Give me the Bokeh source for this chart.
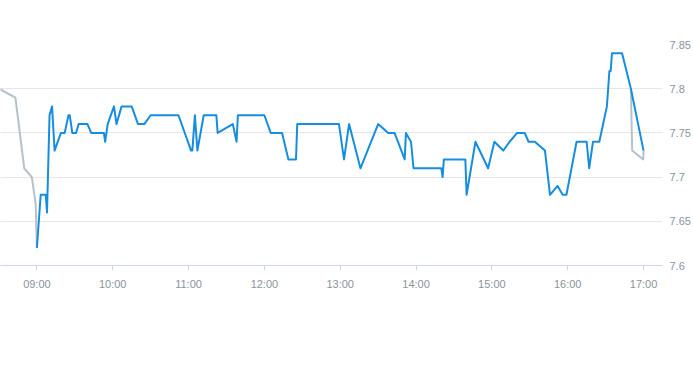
import pandas as pd
from bokeh.plotting import figure
from bokeh.models import Range1d, FixedTicker, DatetimeTickFormatter, ColumnDataSource
from bokeh.embed import file_html
from bokeh.resources import INLINE

DAY = "2024-01-02 "

# pre/post-session series (grey)
grey_times = ["08:30", "08:43", "08:50", "08:56", "08:59", "09:00",
              "16:50", "16:51", "16:59:45", "17:00"]
grey_values = [7.80, 7.79, 7.71, 7.70, 7.67, 7.62,
               7.80, 7.73, 7.72, 7.73]
grey_segment = [0, 0, 0, 0, 0, 0, 1, 1, 1, 1]

# intraday series (blue)
blue_times = [
    "09:00", "09:03", "09:07", "09:08", "09:10", "09:12", "09:14", "09:19",
    "09:22", "09:25", "09:26", "09:27", "09:28", "09:31", "09:33", "09:40",
    "09:43", "09:53", "09:54", "09:56", "10:01", "10:03", "10:07", "10:15",
    "10:20", "10:25", "10:30", "10:52", "11:02", "11:03", "11:05", "11:07",
    "11:12", "11:22", "11:23", "11:35", "11:38", "11:39", "12:00", "12:05",
    "12:14", "12:19", "12:25", "12:26", "12:59", "13:03", "13:07", "13:16",
    "13:30", "13:38", "13:43", "13:51", "13:52", "13:56", "13:58", "14:20",
    "14:21", "14:22", "14:39", "14:40", "14:47", "14:57", "15:02", "15:09",
    "15:14", "15:20", "15:26", "15:29", "15:34", "15:42", "15:46", "15:52",
    "15:56", "15:59", "16:07", "16:15", "16:17", "16:20", "16:25", "16:28",
    "16:31", "16:33", "16:34", "16:35", "16:43", "16:50", "17:00"]
blue_values = [
    7.62, 7.68, 7.68, 7.66, 7.77, 7.78, 7.73, 7.75,
    7.75, 7.77, 7.77, 7.76, 7.75, 7.75, 7.76, 7.76,
    7.75, 7.75, 7.74, 7.76, 7.78, 7.76, 7.78, 7.78,
    7.76, 7.76, 7.77, 7.77, 7.73, 7.73, 7.77, 7.73,
    7.77, 7.77, 7.75, 7.76, 7.74, 7.77, 7.77, 7.75,
    7.75, 7.72, 7.72, 7.76, 7.76, 7.72, 7.76, 7.71,
    7.76, 7.75, 7.75, 7.72, 7.75, 7.74, 7.71, 7.71,
    7.70, 7.72, 7.72, 7.68, 7.74, 7.71, 7.74, 7.73,
    7.74, 7.75, 7.75, 7.74, 7.74, 7.73, 7.68, 7.69,
    7.68, 7.68, 7.74, 7.74, 7.71, 7.74, 7.74, 7.76,
    7.78, 7.82, 7.82, 7.84, 7.84, 7.80, 7.73]

x_tick_times = ["09:00", "10:00", "11:00", "12:00", "13:00",
                "14:00", "15:00", "16:00", "17:00"]
y_ticks = [7.6, 7.65, 7.7, 7.75, 7.8, 7.85]
y_tick_labels = ["7.6", "7.65", "7.7", "7.75", "7.8", "7.85"]


def ts(t):
    return pd.Timestamp(DAY + t)


x_start = ts("08:31:12")
x_end = ts("17:15")

p = figure(width=693, height=360, output_backend="svg", toolbar_location=None,
           x_axis_type="datetime", y_axis_location="right",
           x_range=Range1d(x_start, x_end), y_range=Range1d(7.6, 7.85),
           min_border_left=0, min_border_right=28, min_border_top=44,
           min_border_bottom=95)
p.outline_line_color = None
p.background_fill_color = "white"
p.border_fill_color = "white"

FONT = "Liberation Sans"
LABEL_COLOR = "#8a939c"

# x axis
xa = p.xaxis[0]
xa.ticker = FixedTicker(ticks=[ts(t).value / 1e6 for t in x_tick_times])
xa.formatter = DatetimeTickFormatter(hours="%H:%M", hourmin="%H:%M",
                                     minutes="%H:%M", minsec="%H:%M",
                                     days="%H:%M")
xa.axis_line_color = "#ccd6eb"
xa.major_tick_line_color = "#ccd6eb"
xa.major_tick_out = 5
xa.major_tick_in = 0
xa.minor_tick_line_color = None
xa.minor_tick_out = 0
xa.minor_tick_in = 0
xa.major_label_standoff = 7
xa.major_label_text_font = FONT
xa.major_label_text_font_size = "11px"
xa.major_label_text_color = LABEL_COLOR

# y axis (right)
ya = p.yaxis[0]
ya.ticker = FixedTicker(ticks=y_ticks)
ya.major_label_overrides = {v: s for v, s in zip(y_ticks, y_tick_labels)}
ya.axis_line_color = None
ya.major_tick_line_color = None
ya.minor_tick_line_color = None
ya.major_tick_out = 0
ya.major_tick_in = 0
ya.minor_tick_out = 0
ya.minor_tick_in = 0
ya.major_label_standoff = 7
ya.major_label_text_font = FONT
ya.major_label_text_font_size = "11px"
ya.major_label_text_color = LABEL_COLOR

p.xgrid.grid_line_color = None
p.ygrid.grid_line_color = "#e6e6e6"
p.ygrid.grid_line_width = 1

# grey segments
for seg in (0, 1):
    xs = [ts(t) for t, s in zip(grey_times, grey_segment) if s == seg]
    ys = [v for v, s in zip(grey_values, grey_segment) if s == seg]
    p.line(xs, ys, line_color="#b5c1c9", line_width=2, line_join="round")

src = ColumnDataSource(dict(x=[ts(t) for t in blue_times], y=blue_values))
p.line("x", "y", source=src, line_color="#168ddf", line_width=2,
       line_join="round")

open("out.html", "w").write(file_html(p, INLINE))
